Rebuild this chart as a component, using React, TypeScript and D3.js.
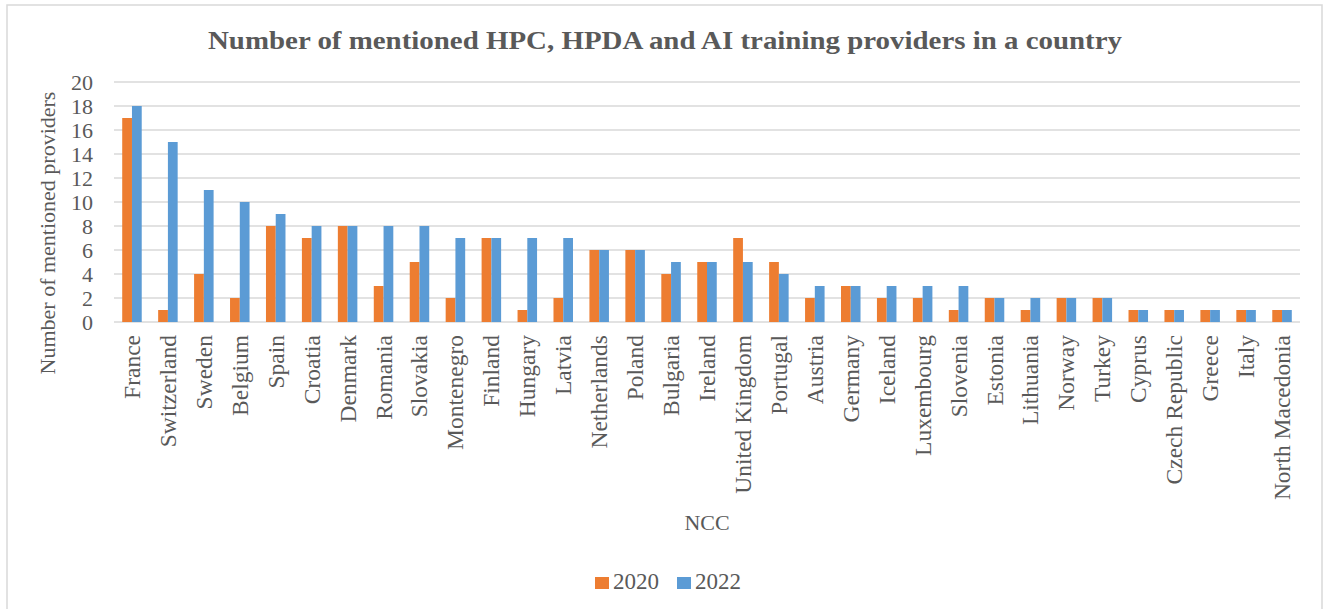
import React from "react";
import * as d3 from "d3";

const countries = ["France","Switzerland","Sweden","Belgium","Spain","Croatia","Denmark","Romania","Slovakia","Montenegro","Finland","Hungary","Latvia","Netherlands","Poland","Bulgaria","Ireland","United Kingdom","Portugal","Austria","Germany","Iceland","Luxembourg","Slovenia","Estonia","Lithuania","Norway","Turkey","Cyprus","Czech Republic","Greece","Italy","North Macedonia"];
const values2020 = [17,1,4,2,8,7,8,3,5,2,7,1,2,6,6,4,5,7,5,2,3,2,2,1,2,1,2,2,1,1,1,1,1];
const values2022 = [18,15,11,10,9,8,8,8,8,7,7,7,7,6,6,5,5,5,4,3,3,3,3,3,2,2,2,2,1,1,1,1,1];
const seriesNames = ["2020", "2022"];
const yTicks = [0,2,4,6,8,10,12,14,16,18,20];

const W = 1328, H = 609;
const left = 114, right = 1300, top = 82, bottom = 322;
const colors = ["#ED7D31", "#5B9BD5"];
const textColor = "#595959";
const font = "'Liberation Serif', 'Times New Roman', serif";

export default function App() {
  const x = d3.scaleBand<string>().domain(countries).range([left, right]).paddingInner(0.457).paddingOuter(0.2285);
  const xs = d3.scaleBand<string>().domain(seriesNames).range([0, x.bandwidth()]);
  const y = d3.scaleLinear().domain([0, 20]).range([bottom, top]);
  const series = [values2020, values2022];
  return (
    <svg width={W} height={H} style={{ position: "absolute", left: 0, top: 0, fontFamily: font }}>
      <rect x={0} y={0} width={W} height={H} fill="#fff" />
      <rect x={7} y={5} width={1315} height={612} fill="#fff" stroke="#d9d9d9" strokeWidth={1.5} />
      <text x={665} y={49} textAnchor="middle" fontSize={26} fontWeight="bold" fill={textColor}
        textLength={914} lengthAdjust="spacingAndGlyphs">
        Number of mentioned HPC, HPDA and AI training providers in a country
      </text>
      {yTicks.map(t => (
        <g key={t}>
          <line x1={left} x2={right} y1={y(t)} y2={y(t)} stroke="#d9d9d9" strokeWidth={1.5} />
          <text x={93} y={y(t)} dy="0.35em" textAnchor="end" fontSize={22} fill={textColor}>{t}</text>
        </g>
      ))}
      {series.map((vals, si) => (
        <g key={si}>
          {countries.map((c, i) => (
            <rect key={c} x={(x(c) as number) + (xs(seriesNames[si]) as number)} y={y(vals[i])}
              width={xs.bandwidth()} height={y(0) - y(vals[i])} fill={colors[si]} />
          ))}
        </g>
      ))}
      {countries.map(c => {
        const cx = (x(c) as number) + x.bandwidth() / 2;
        return (
          <text key={c} transform={`translate(${cx + 8},335) rotate(-90)`} textAnchor="end" fontSize={23.5} fill={textColor}>{c}</text>
        );
      })}
      <text transform={`translate(55,233) rotate(-90)`} textAnchor="middle" fontSize={22} fill={textColor}>
        Number of mentioned providers
      </text>
      <text x={(left + right) / 2} y={530} textAnchor="middle" fontSize={22} fill={textColor}>NCC</text>
      {seriesNames.map((s, i) => (
        <g key={s} transform={`translate(${595 + i * 82},0)`}>
          <rect x={0} y={577} width={14} height={12} fill={colors[i]} />
          <text x={18} y={589} fontSize={23} fill={textColor}>{s}</text>
        </g>
      ))}
    </svg>
  );
}
